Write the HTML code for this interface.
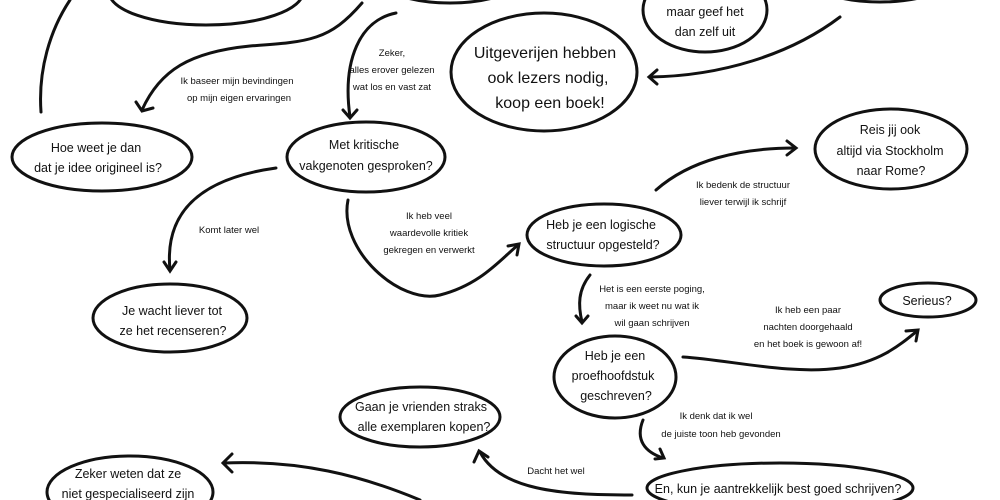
<!DOCTYPE html>
<html><head><meta charset="utf-8"><style>
html,body{margin:0;padding:0;background:#fff;width:1000px;height:500px;overflow:hidden;}
svg{display:block;}
text{font-family:"Liberation Sans Narrow","Liberation Sans",sans-serif;fill:#111;text-anchor:middle;}
.n{font-size:12.5px;}
.l{font-size:9.5px;}
.b{font-size:16px;}
</style></head><body>
<svg width="1000" height="500" viewBox="0 0 1000 500" xmlns="http://www.w3.org/2000/svg">
<g fill="none" stroke="#111" stroke-width="3" stroke-linecap="round">
<ellipse cx="206" cy="-8" rx="97" ry="33"/>
<ellipse cx="450" cy="-30" rx="80" ry="33"/>
<ellipse cx="705" cy="10" rx="62" ry="42"/>
<ellipse cx="880" cy="-26" rx="75" ry="28"/>
<ellipse cx="544" cy="72" rx="93" ry="59"/>
<ellipse cx="102" cy="157" rx="90" ry="34"/>
<ellipse cx="366" cy="157" rx="79" ry="35"/>
<ellipse cx="891" cy="149" rx="76" ry="40"/>
<ellipse cx="604" cy="235" rx="77" ry="31"/>
<ellipse cx="170" cy="318" rx="77" ry="34"/>
<ellipse cx="928" cy="300" rx="48" ry="17"/>
<ellipse cx="615" cy="377" rx="61" ry="41"/>
<ellipse cx="420" cy="417" rx="80" ry="30"/>
<ellipse cx="130" cy="492" rx="83" ry="36"/>
<ellipse cx="780" cy="488" rx="133" ry="25"/>
<path d="M41 112 C38 70 50 30 70 0"/>
<path d="M362 3 C330 40 310 42 250 46 C190 52 160 70 142 110"/>
<path d="M136 102 L142 111 L153 108"/>
<path d="M396 13 C360 20 342 60 350 117"/>
<path d="M343 110 L350 118 L357 110"/>
<path d="M840 17 C790 55 720 76 650 77"/>
<path d="M657 70 L649 77 L657 84"/>
<path d="M276 168 C190 180 165 220 170 270"/>
<path d="M164 262 L170 271 L176 262"/>
<path d="M348 200 C338 250 400 305 440 295 C480 285 500 260 518 245"/>
<path d="M508 246 L519 244 L517 255"/>
<path d="M656 190 C690 160 740 148 795 148"/>
<path d="M787 141 L796 148 L787 155"/>
<path d="M590 275 C578 290 578 305 582 322"/>
<path d="M576 316 L582 323 L588 316"/>
<path d="M683 357 C730 360 790 375 840 368 C880 362 900 345 917 331"/>
<path d="M906 331 L918 330 L916 341"/>
<path d="M643 420 C635 440 645 452 663 458"/>
<path d="M655 459 L664 458 L660 449"/>
<path d="M632 495 C560 495 500 490 480 452"/>
<path d="M474 462 L479 451 L488 457"/>
<path d="M420 500 C360 475 300 460 224 463"/>
<path d="M232 454 L223 463 L232 472"/>
</g>
<text class="n" x="210" y="-2">dan kan ik het in ... ook niet</text>
<text class="n" x="705" y="16">maar geef het</text>
<text class="n" x="705" y="36">dan zelf uit</text>
<text class="b" x="545" y="58">Uitgeverijen hebben</text>
<text class="b" x="548" y="83">ook lezers nodig,</text>
<text class="b" x="550" y="108">koop een boek!</text>
<text class="n" x="96" y="152">Hoe weet je dan</text>
<text class="n" x="98" y="172">dat je idee origineel is?</text>
<text class="n" x="364" y="149">Met kritische</text>
<text class="n" x="366" y="170">vakgenoten gesproken?</text>
<text class="n" x="890" y="134">Reis jij ook</text>
<text class="n" x="890" y="155">altijd via Stockholm</text>
<text class="n" x="891" y="175">naar Rome?</text>
<text class="n" x="601" y="229">Heb je een logische</text>
<text class="n" x="603" y="249">structuur opgesteld?</text>
<text class="n" x="172" y="315">Je wacht liever tot</text>
<text class="n" x="173" y="335">ze het recenseren?</text>
<text class="n" x="927" y="305">Serieus?</text>
<text class="n" x="615" y="360">Heb je een</text>
<text class="n" x="613" y="380">proefhoofdstuk</text>
<text class="n" x="616" y="400">geschreven?</text>
<text class="n" x="421" y="411">Gaan je vrienden straks</text>
<text class="n" x="424" y="431">alle exemplaren kopen?</text>
<text class="n" x="128" y="478">Zeker weten dat ze</text>
<text class="n" x="128" y="498">niet gespecialiseerd zijn</text>
<text class="n" x="778" y="493">En, kun je aantrekkelijk best goed schrijven?</text>
<text class="l" x="237" y="84">Ik baseer mijn bevindingen</text>
<text class="l" x="239" y="101">op mijn eigen ervaringen</text>
<text class="l" x="392" y="56">Zeker,</text>
<text class="l" x="392" y="73">alles erover gelezen</text>
<text class="l" x="392" y="90">wat los en vast zat</text>
<text class="l" x="229" y="233">Komt later wel</text>
<text class="l" x="429" y="219">Ik heb veel</text>
<text class="l" x="429" y="236">waardevolle kritiek</text>
<text class="l" x="429" y="253">gekregen en verwerkt</text>
<text class="l" x="743" y="188">Ik bedenk de structuur</text>
<text class="l" x="743" y="205">liever terwijl ik schrijf</text>
<text class="l" x="652" y="292">Het is een eerste poging,</text>
<text class="l" x="652" y="309">maar ik weet nu wat ik</text>
<text class="l" x="652" y="326">wil gaan schrijven</text>
<text class="l" x="808" y="313">Ik heb een paar</text>
<text class="l" x="808" y="330">nachten doorgehaald</text>
<text class="l" x="808" y="347">en het boek is gewoon af!</text>
<text class="l" x="716" y="419">Ik denk dat ik wel</text>
<text class="l" x="721" y="437">de juiste toon heb gevonden</text>
<text class="l" x="556" y="474">Dacht het wel</text>
</svg>
</body></html>
